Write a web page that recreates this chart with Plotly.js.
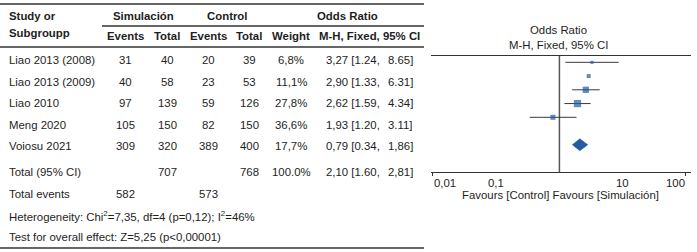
<!DOCTYPE html>
<html>
<head>
<meta charset="utf-8">
<script src="https://cdn.plot.ly/plotly-3.0.1.min.js"></script>
<style>html,body{margin:0;padding:0;background:#fff;}#chart{width:697px;height:252px;}</style>
</head>
<body>
<div id="chart"></div>
<script>
// ---- data ----
const studies = ['Liao 2013 (2008)', 'Liao 2013 (2009)', 'Liao 2010', 'Meng 2020', 'Voiosu 2021'];
const simEvents = [31, 40, 97, 105, 309];
const simTotal = [40, 58, 139, 150, 320];
const ctlEvents = [20, 23, 59, 82, 389];
const ctlTotal = [39, 53, 126, 150, 400];
const weights = [6.8, 11.1, 27.8, 36.6, 17.7];
const oddsRatio = [3.27, 2.90, 2.62, 1.93, 0.79];
const ciLow = [1.24, 1.33, 1.59, 1.20, 0.34];
const ciHigh = [8.65, 6.31, 4.34, 3.11, 1.86];
const ciHighLabel = ['8.65', '6.31', '4.34', '3.11', '1,86'];
const showCI = [true, false, true, true, true];
const totalSimTotal = 707;
const totalCtlTotal = 768;
const totalWeightLabel = '100.0%';
const totalOR = 2.10;
const totalLow = 1.60;
const totalHigh = 2.81;
const totalHighLabel = '2,81';
const totalSimEvents = 582;
const totalCtlEvents = 573;
const heterogeneityText = 'Heterogeneity: Chi<sup>2</sup>=7,35, df=4 (p=0,12); I<sup>2</sup>=46%';
const overallText = 'Test for overall effect: Z=5,25 (p<0,00001)';
const tickVals = [0.01, 0.1, 10, 100];
const tickText = ['0,01', '0,1', '10', '100'];
const nullLine = 1;

// ---- layout helpers ----
const W = 697, H = 252;
const FONT = 'Liberation Sans, Arial, sans-serif';
const FS = 11.4;
const TXT = '#1e1e1e';
const LINE = '#333333';
const py = y => 1 - y / H;
const comma = v => v.toFixed(2).replace('.', ',');
const dot = v => v.toFixed(2);

// table column positions (x2 axis, pixel units)
const colStudy = 8, colSimEv = 125, colSimTot = 167, colCtlEv = 208, colCtlTot = 249, colW = 291, colORL = 325, colORR = 414;
// table row positions (y2 axis, row index units)
const hdr1 = -2.05, hdr2 = -1.12, hdrSub = -1.26;
const rowTotal = 5.21, rowEvents = 6.23, rowHet = 7.26, rowTest = 8.23;
const diamondRow = 6;

const annotations = [];
function t(x, y, text, anchor, bold) {
  annotations.push({
    xref: 'x2', yref: 'y2', x: x, y: y, text: bold ? '<b>' + text + '</b>' : text,
    showarrow: false, xanchor: anchor || 'center', yanchor: 'middle',
    font: {family: FONT, size: FS, color: TXT}, borderpad: 0
  });
}

// headers
t(colStudy, hdr1, 'Study or', 'left', true);
t(colStudy, hdrSub, 'Subgroupp', 'left', true);
t(143, hdr1, 'Simulación', 'center', true);
t(227, hdr1, 'Control', 'center', true);
t(347, hdr1, 'Odds Ratio', 'center', true);
t(colSimEv, hdr2, 'Events', 'center', true);
t(colSimTot, hdr2, 'Total', 'center', true);
t(colCtlEv, hdr2, 'Events', 'center', true);
t(colCtlTot, hdr2, 'Total', 'center', true);
t(colW, hdr2, 'Weight', 'center', true);
t(369, hdr2, 'M-H, Fixed, 95% CI', 'center', true);

// study rows
studies.forEach((s, i) => {
  t(colStudy, i, s, 'left');
  t(colSimEv, i, String(simEvents[i]));
  t(colSimTot, i, String(simTotal[i]));
  t(colCtlEv, i, String(ctlEvents[i]));
  t(colCtlTot, i, String(ctlTotal[i]));
  t(colW, i, weights[i].toFixed(1).replace('.', ',') + '%');
  t(colORL, i, comma(oddsRatio[i]) + ' [' + dot(ciLow[i]) + ',', 'left');
  t(colORR, i, ciHighLabel[i] + ']', 'right');
});

// totals
t(colStudy, rowTotal, 'Total (95% CI)', 'left');
t(colSimTot, rowTotal, String(totalSimTotal));
t(colCtlTot, rowTotal, String(totalCtlTotal));
t(colW, rowTotal, totalWeightLabel);
t(colORL, rowTotal, comma(totalOR) + ' [' + dot(totalLow) + ',', 'left');
t(colORR, rowTotal, totalHighLabel + ']', 'right');
t(colStudy, rowEvents, 'Total events', 'left');
t(colSimEv, rowEvents, String(totalSimEvents));
t(colCtlEv, rowEvents, String(totalCtlEvents));
t(colStudy, rowHet, heterogeneityText, 'left');
t(colStudy, rowTest, overallText, 'left');

// right panel titles
annotations.push({xref: 'paper', yref: 'paper', x: 558 / W, y: py(30), text: 'Odds Ratio', showarrow: false,
  xanchor: 'center', yanchor: 'middle', font: {family: FONT, size: FS, color: TXT}});
annotations.push({xref: 'paper', yref: 'paper', x: 558 / W, y: py(45), text: 'M-H, Fixed, 95% CI', showarrow: false,
  xanchor: 'center', yanchor: 'middle', font: {family: FONT, size: FS, color: TXT}});
annotations.push({xref: 'paper', yref: 'paper', x: 560 / W, y: py(195), text: 'Favours [Control] Favours [Simulación]', showarrow: false,
  xanchor: 'center', yanchor: 'middle', font: {family: FONT, size: FS, color: TXT}});

// tick labels on log axis
tickVals.forEach((v, i) => {
  const anchor = i === 0 ? 'left' : (i === tickVals.length - 1 ? 'right' : 'center');
  annotations.push({xref: 'x', yref: 'paper', x: Math.log10(v), y: py(183), text: tickText[i], showarrow: false,
    xanchor: anchor, yanchor: 'middle', font: {family: FONT, size: FS, color: TXT}, borderpad: 0});
});

// ---- traces ----
const ciX = [], ciY = [];
studies.forEach((s, i) => {
  if (showCI[i]) { ciX.push(ciLow[i], ciHigh[i], null); ciY.push(i, i, null); }
});
const rowIdx = studies.map((s, i) => i);
const blue = '#2559a2';
const hh = 0.44;

const traces = [
  {type: 'scatter', mode: 'lines', x: [nullLine, nullLine], y: [-0.46, 7.98], xaxis: 'x', yaxis: 'y',
   line: {color: '#555555', width: 1.5}, hoverinfo: 'skip', showlegend: false, cliponaxis: false},
  {type: 'scatter', mode: 'lines', x: ciX, y: ciY, xaxis: 'x', yaxis: 'y',
   line: {color: '#3a3a3a', width: 1}, hoverinfo: 'skip', showlegend: false},
  {type: 'scatter', mode: 'markers', x: oddsRatio, y: rowIdx, xaxis: 'x', yaxis: 'y',
   marker: {symbol: 'square', color: blue, size: weights.map(w => 1.2 * Math.sqrt(w)), line: {width: 0}},
   hoverinfo: 'skip', showlegend: false},
  {type: 'scatter', mode: 'lines', fill: 'toself', fillcolor: blue,
   x: [totalLow, totalOR, totalHigh, totalOR, totalLow],
   y: [diamondRow, diamondRow - hh, diamondRow, diamondRow + hh, diamondRow],
   xaxis: 'x', yaxis: 'y', line: {color: blue, width: 0.5}, hoverinfo: 'skip', showlegend: false},
  {type: 'scatter', mode: 'markers', x: [0], y: [0], xaxis: 'x2', yaxis: 'y2', marker: {opacity: 0},
   hoverinfo: 'skip', showlegend: false}
];

const hl = (x0, x1, y) => ({type: 'line', xref: 'paper', yref: 'paper', x0: x0 / W, x1: x1 / W, y0: py(y), y1: py(y),
  line: {color: LINE, width: 1.3}});

const layout = {
  width: W, height: H,
  margin: {l: 0, r: 0, t: 0, b: 0, pad: 0},
  paper_bgcolor: '#ffffff', plot_bgcolor: 'rgba(0,0,0,0)',
  font: {family: FONT, size: FS, color: TXT},
  showlegend: false,
  xaxis: {type: 'log', domain: [431 / W, 691 / W], range: [-2.03, 2.08], anchor: 'y',
    showline: true, linecolor: LINE, linewidth: 1, mirror: true,
    tickvals: [tickVals[0], tickVals[tickVals.length - 1]], ticks: 'outside', ticklen: 3, tickcolor: LINE,
    showticklabels: false, showgrid: false, zeroline: false, fixedrange: true},
  yaxis: {domain: [py(172), py(56)], range: [7.98, -0.46], anchor: 'x', visible: false, fixedrange: true},
  xaxis2: {domain: [0, 1], range: [0, W], anchor: 'y2', visible: false, fixedrange: true},
  yaxis2: {domain: [0, 1], range: [(H - 60) / 21.5, -60 / 21.5], anchor: 'x2', visible: false, fixedrange: true},
  shapes: [
    hl(0, 424, 4), hl(102, 424, 26), hl(0, 424, 47), hl(0, 424, 248)
  ],
  annotations: annotations
};

Plotly.newPlot('chart', traces, layout, {staticPlot: true, displayModeBar: false});
</script>
</body>
</html>
